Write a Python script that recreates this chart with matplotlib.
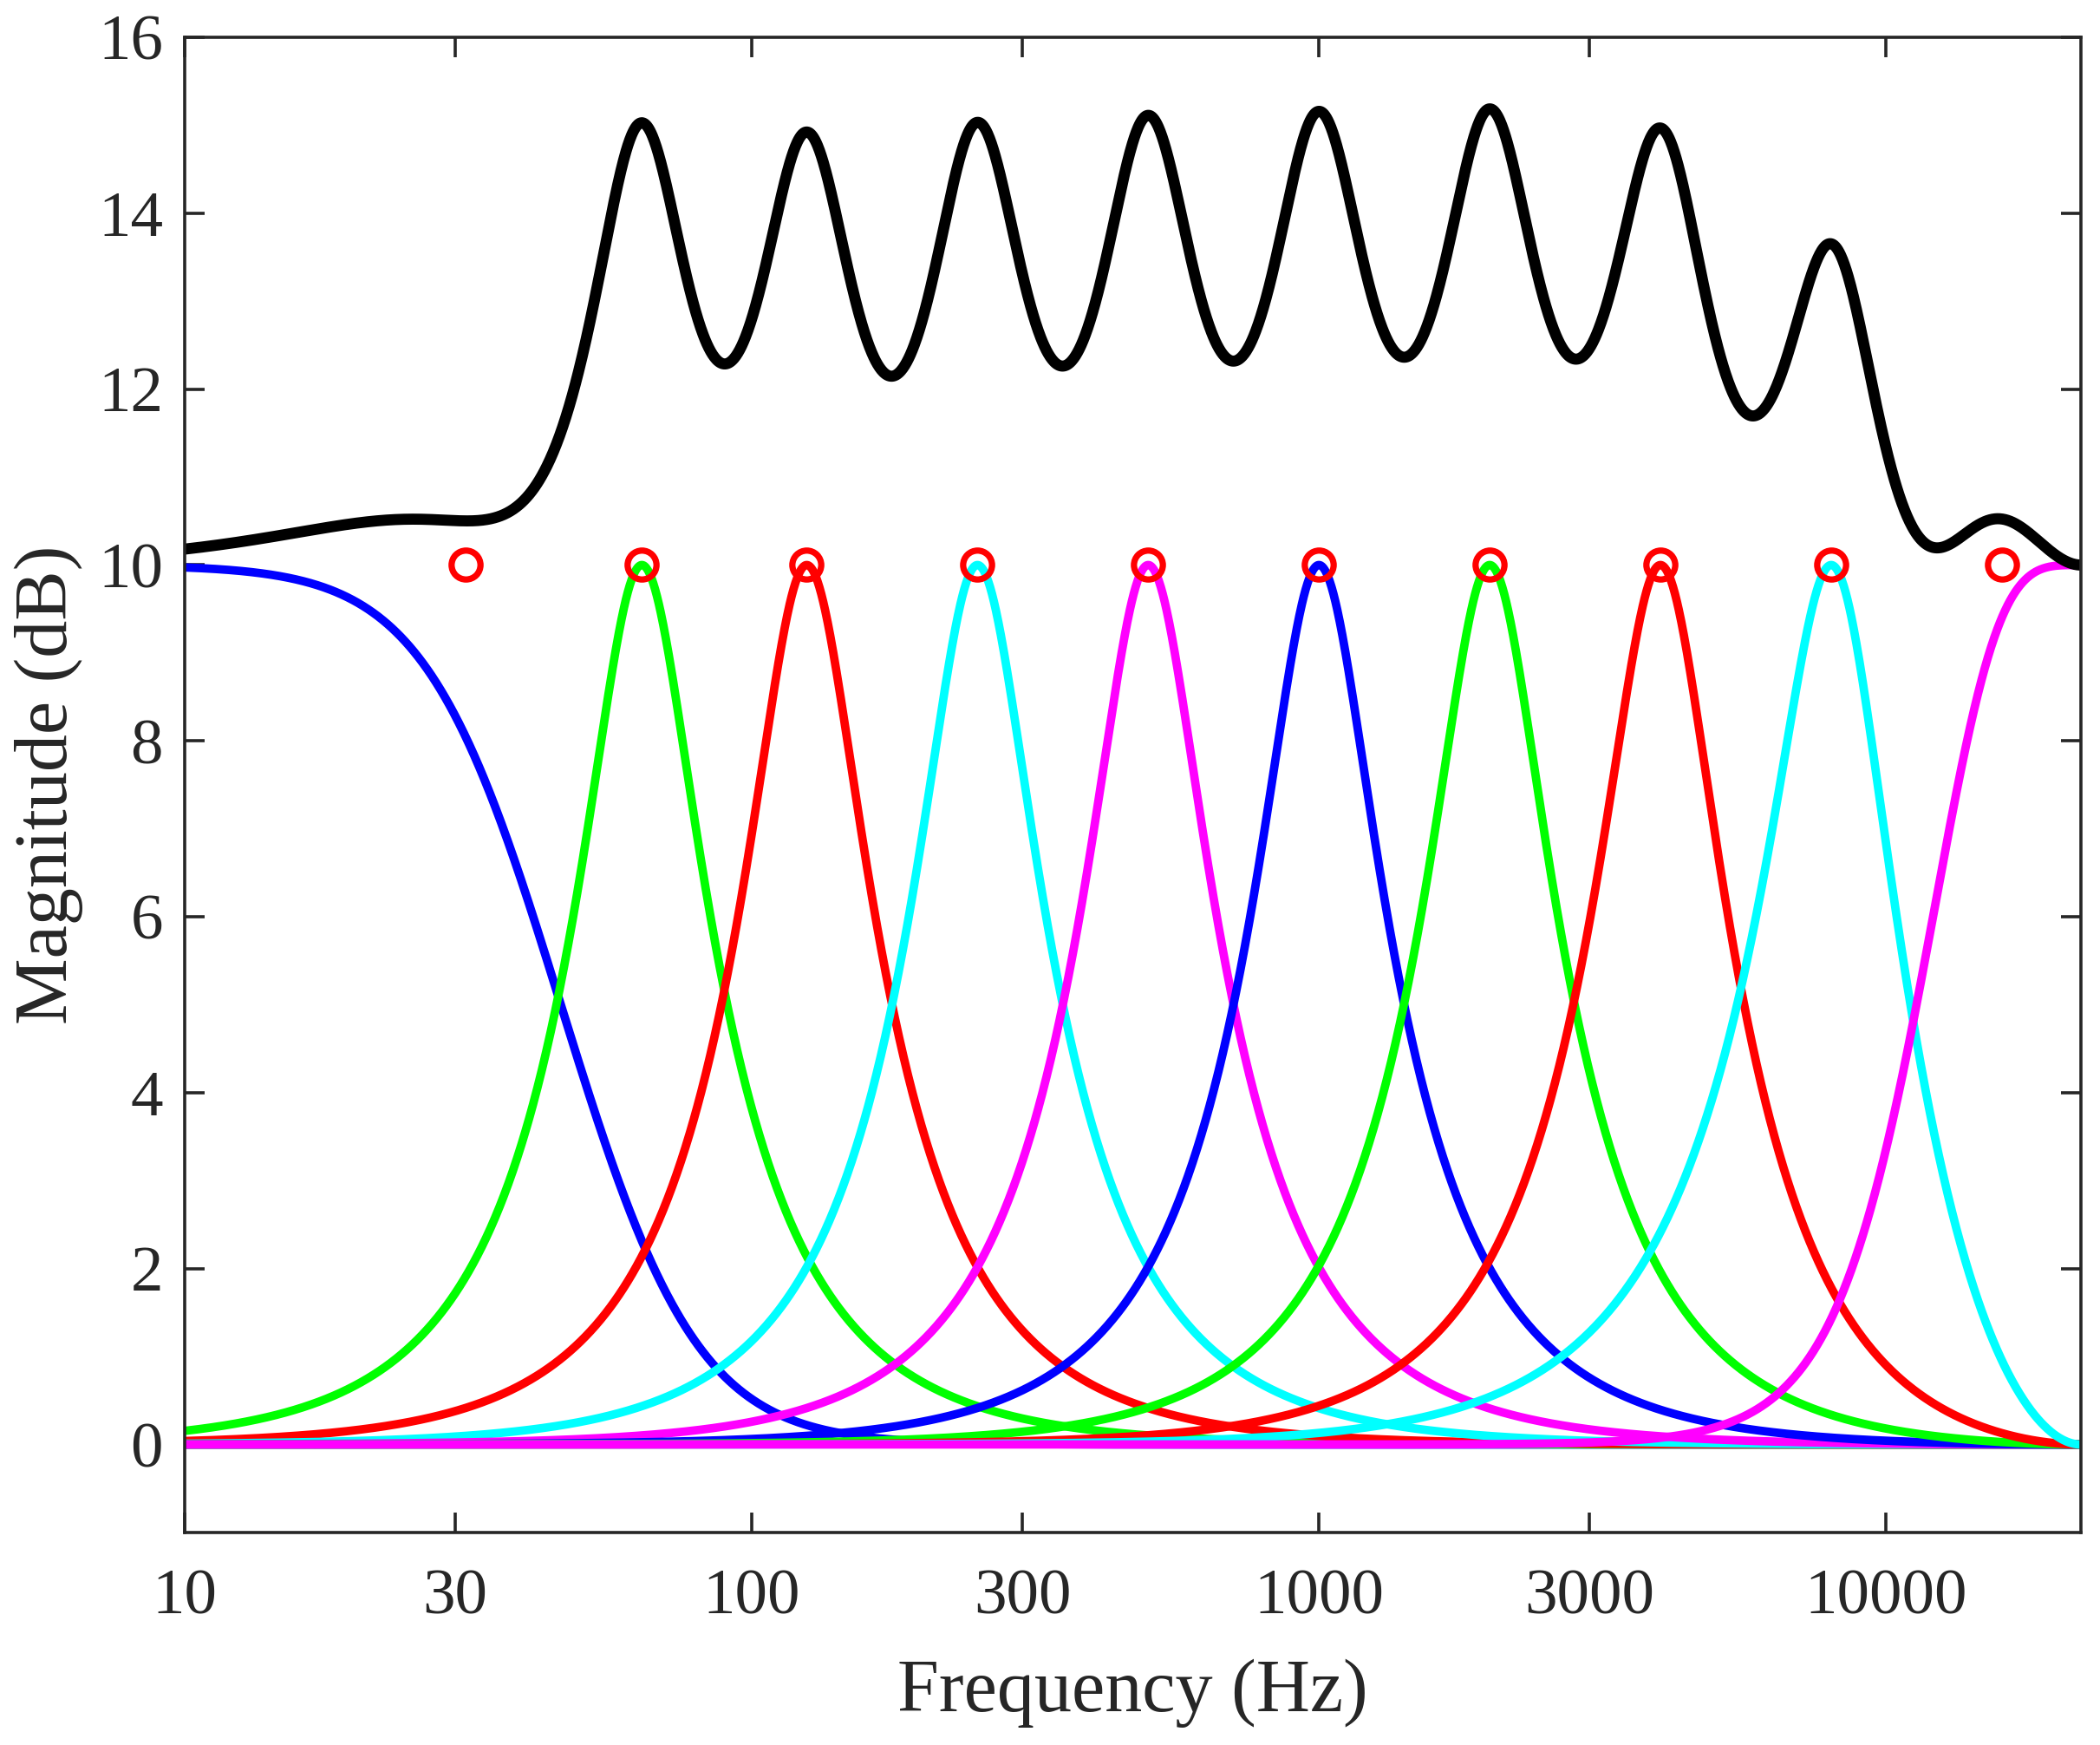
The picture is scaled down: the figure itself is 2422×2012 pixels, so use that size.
import numpy as np
import matplotlib
matplotlib.use("Agg")
import matplotlib.pyplot as plt

# band centres of the graphic EQ (Hz) and their gains (dB)
band_freqs = [31.25, 64, 125, 250, 500, 1000, 2000, 4000, 8000, 16000]
band_gains = [10, 10, 10, 10, 10, 10, 10, 10, 10, 10]
band_types = ['lowshelf', 'peak', 'peak', 'peak', 'peak',
              'peak', 'peak', 'peak', 'peak', 'highshelf']
bandwidth_oct = 1.0
shelf_slope = 1.0
lowshelf_shift_oct = 0.56
highshelf_shift_oct = -0.5
fs = 44100

x_ticks = [10, 30, 100, 300, 1000, 3000, 10000]
y_ticks = [0, 2, 4, 6, 8, 10, 12, 14, 16]

line_colors = ['b', 'g', 'r', 'c', 'm', 'b', 'g', 'r', 'c', 'm']
line_colors = [{'b': (0, 0, 1), 'g': (0, 1, 0), 'r': (1, 0, 0),
                'c': (0, 1, 1), 'm': (1, 0, 1)}[c] for c in line_colors]


def biquad(kind, f0, gain):
    # RBJ cookbook biquads, peak Q taken from prewarped band edges
    A = 10 ** (gain / 40)
    w0 = 2 * np.pi * f0 / fs
    cw, sw = np.cos(w0), np.sin(w0)
    if kind == 'peak':
        lo = np.tan(np.pi * f0 * 2 ** (-bandwidth_oct / 2) / fs)
        hi = np.tan(np.pi * f0 * 2 ** (bandwidth_oct / 2) / fs)
        q = np.sqrt(lo * hi) / (hi - lo)
        alpha = sw / (2 * q)
        b = [1 + alpha * A, -2 * cw, 1 - alpha * A]
        a = [1 + alpha / A, -2 * cw, 1 - alpha / A]
    else:
        alpha = sw / 2 * np.sqrt((A + 1 / A) * (1 / shelf_slope - 1) + 2)
        sa = 2 * np.sqrt(A) * alpha
        if kind == 'lowshelf':
            b = [A * ((A + 1) - (A - 1) * cw + sa), 2 * A * ((A - 1) - (A + 1) * cw),
                 A * ((A + 1) - (A - 1) * cw - sa)]
            a = [(A + 1) + (A - 1) * cw + sa, -2 * ((A - 1) + (A + 1) * cw),
                 (A + 1) + (A - 1) * cw - sa]
        else:
            b = [A * ((A + 1) + (A - 1) * cw + sa), -2 * A * ((A - 1) + (A + 1) * cw),
                 A * ((A + 1) + (A - 1) * cw - sa)]
            a = [(A + 1) - (A - 1) * cw + sa, 2 * ((A - 1) - (A + 1) * cw),
                 (A + 1) - (A - 1) * cw - sa]
    return np.array(b), np.array(a)


def response_db(b, a, f):
    z = np.exp(-1j * 2 * np.pi * f / fs)
    h = (b[0] + b[1] * z + b[2] * z ** 2) / (a[0] + a[1] * z + a[2] * z ** 2)
    return 20 * np.log10(np.abs(h))


f = np.logspace(1, np.log10(fs / 2), 3000)

responses = []
for kind, fc, g in zip(band_types, band_freqs, band_gains):
    if kind == 'lowshelf':
        fc = fc * 2 ** lowshelf_shift_oct
    elif kind == 'highshelf':
        fc = fc * 2 ** highshelf_shift_oct
    b, a = biquad(kind, fc, g)
    responses.append(response_db(b, a, f))
# cascade of all bands
total = np.sum(responses, axis=0)

plt.rcParams['font.family'] = ['Liberation Serif', 'DejaVu Serif']
axis_col = (0.15, 0.15, 0.15)

fig = plt.figure(figsize=(12.11, 10.06), dpi=200)
ax = fig.add_axes([0.0879, 0.1218, 0.9030, 0.8568])

for resp, col in zip(responses, line_colors):
    ax.plot(f, resp, color=col, lw=3.5, solid_capstyle='butt')
ax.plot(f, total, color='k', lw=4.6, solid_capstyle='butt')
ax.plot(band_freqs, band_gains, 'o', ms=12, mew=2.6, mec=(1, 0, 0), mfc='none')

ax.set_xscale('log')
ax.set_xlim(10, fs / 2)
ax.set_ylim(-1, 16)
ax.set_xticks(x_ticks)
ax.set_xticklabels([str(t) for t in x_ticks])
ax.minorticks_off()
ax.set_yticks(y_ticks)
ax.tick_params(direction='in', length=8.3, width=1.3, colors=axis_col,
               labelsize=27, top=True, right=True)
ax.tick_params(axis='x', pad=15)
ax.tick_params(axis='y', pad=9)
for sp in ax.spines.values():
    sp.set_linewidth(1.3)
    sp.set_color(axis_col)

ax.set_xlabel('Frequency (Hz)', fontsize=31, color=axis_col, labelpad=13)
ax.set_ylabel('Magnitude (dB)', fontsize=31, color=axis_col, labelpad=6)

fig.savefig('out.png', dpi=200)
